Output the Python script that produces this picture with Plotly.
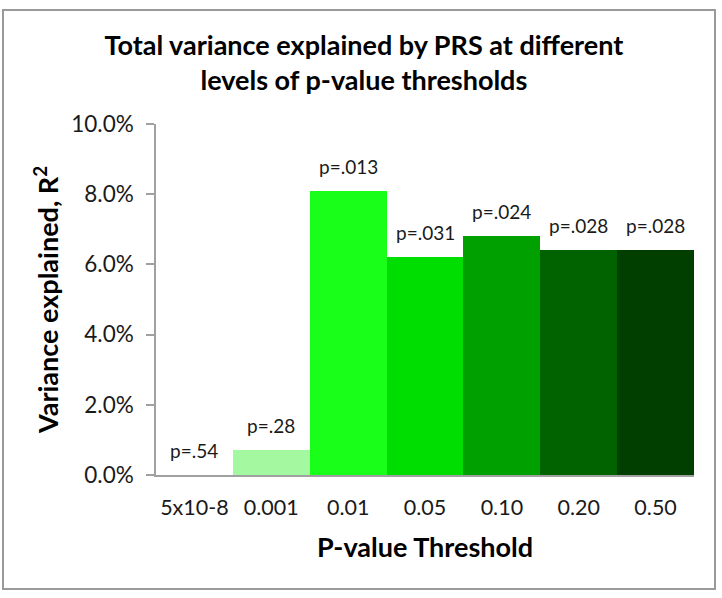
import plotly.graph_objects as go

# ---- data ----
thresholds = ["5x10-8", "0.001", "0.01", "0.05", "0.10", "0.20", "0.50"]
variance = [0.0, 0.007, 0.081, 0.062, 0.068, 0.064, 0.064]
p_labels = ["p=.54", "p=.28", "p=.013", "p=.031", "p=.024", "p=.028", "p=.028"]
bar_colors = ["#FFFFFF", "#A4F9A0", "#1AFF1A", "#00DD00", "#00A000", "#006300", "#003F00"]
y_ticks = [0.0, 0.02, 0.04, 0.06, 0.08, 0.10]

FONT = "Lato, 'Open Sans', sans-serif"

# layout geometry (pixels)
W, H = 722, 598
L, R, T, B = 156, 28, 124, 123
pw, ph = W - L - R, H - T - B

fig = go.Figure()
fig.add_trace(go.Bar(
    x=thresholds, y=variance,
    marker=dict(color=bar_colors, line=dict(width=0)),
    hoverinfo="x+y",
))

for i, (yv, lab) in enumerate(zip(variance, p_labels)):
    fig.add_annotation(x=i, y=yv, text=lab, showarrow=False,
                       xref="x", yref="y",
                       yanchor="bottom", yshift=11,
                       font=dict(family=FONT, size=19, color="#1a1a1a"))

# frame around whole chart
def px_x(p):
    return (p - L) / pw

def px_y(p):
    return (H - B - p) / ph

frame_style = dict(color="#9a9a9a", width=2)
fig.add_shape(type="rect", xref="paper", yref="paper",
              x0=px_x(3), x1=px_x(715), y0=px_y(589), y1=px_y(10),
              line=frame_style, fillcolor="rgba(0,0,0,0)", layer="above")
fig.add_shape(type="line", xref="paper", yref="paper",
              x0=px_x(3), x1=px_x(715), y0=px_y(10), y1=px_y(10),
              line=frame_style, layer="above")

# y-axis title as rotated annotation
fig.add_annotation(x=px_x(46), y=px_y(300), xref="paper", yref="paper",
                   text="<b>Variance explained, R<sup>2</sup></b>", textangle=-90,
                   showarrow=False, xanchor="center", yanchor="middle",
                   font=dict(family=FONT, size=27, color="#000000"))

fig.update_layout(
    width=W, height=H,
    margin=dict(l=L, r=R, t=T, b=B, autoexpand=False),
    paper_bgcolor="white", plot_bgcolor="white",
    bargap=0,
    showlegend=False,
    title=dict(
        text="<b>Total variance explained by PRS at different<br>levels of p-value thresholds</b>",
        x=0.504, xref="container", xanchor="center",
        y=1 - 55 / H, yref="container", yanchor="top",
        font=dict(family=FONT, size=27, color="#000000"),
        automargin=False,
    ),
    font=dict(family=FONT, color="#1a1a1a"),
)

fig.update_yaxes(
    range=[0, 0.1], tickvals=y_ticks, tickformat=".1%",
    showgrid=False, zeroline=False, automargin=False,
    showline=True, linecolor="#a0a0a0", linewidth=1.5,
    ticks="outside", ticklen=8, tickcolor="#a0a0a0", tickwidth=1.5,
    ticklabelstandoff=8,
    tickfont=dict(family=FONT, size=22.5, color="#1a1a1a"),
)
fig.update_xaxes(
    type="category", range=[-0.5, 6.5],
    showgrid=False, zeroline=False, automargin=False,
    showline=True, linecolor="#a0a0a0", linewidth=1.5,
    ticks="", ticklabelstandoff=12,
    tickfont=dict(family=FONT, size=21.5, color="#1a1a1a"),
    title=dict(text="<b>P-value Threshold</b>",
               font=dict(family=FONT, size=27, color="#000000"), standoff=20),
)

fig.write_html("out.html", config={"displayModeBar": False},
               post_script="document.body.style.margin='0';")
